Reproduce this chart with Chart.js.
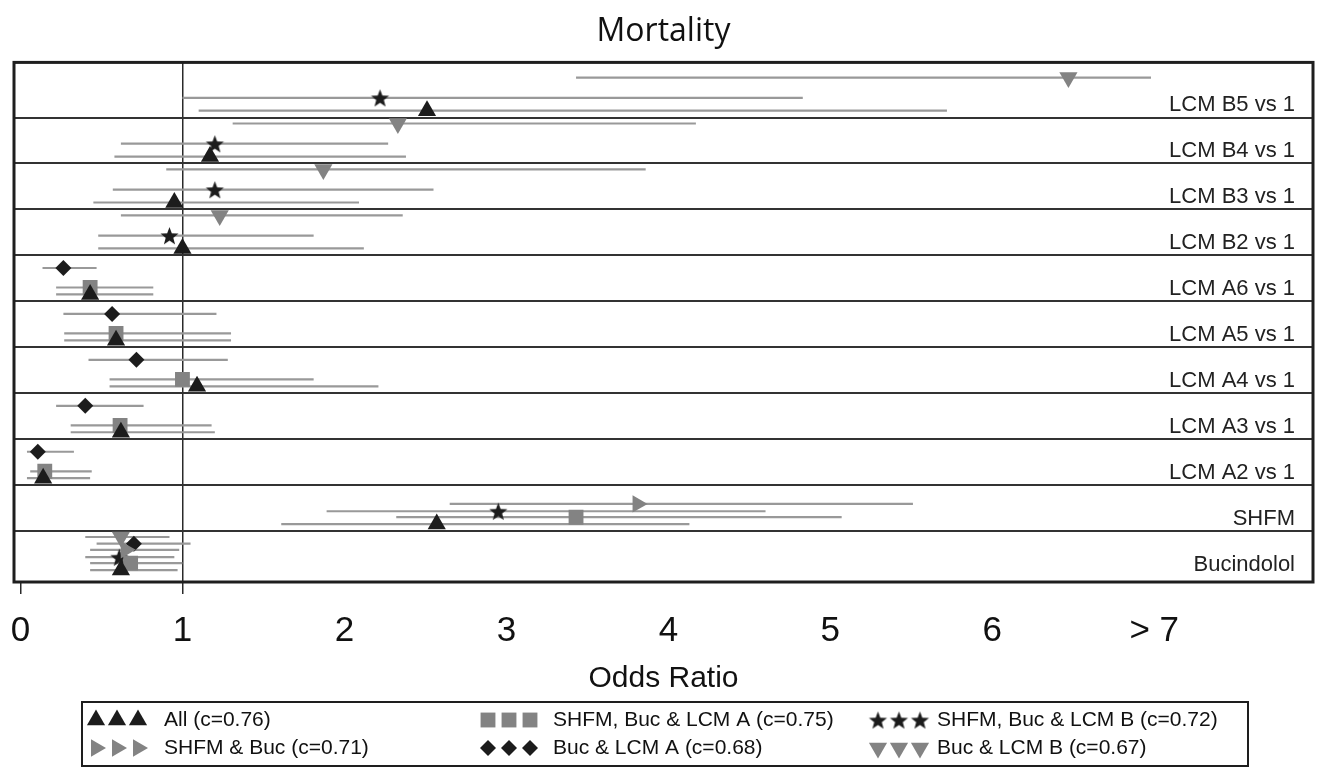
<!DOCTYPE html>
<html>
<head>
<meta charset="utf-8">
<script src="https://cdn.jsdelivr.net/npm/chart.js@4.4.0/dist/chart.umd.min.js"></script>
<style>
  body { margin: 0; background: #fff; }
  #wrap { width: 1321px; height: 771px; position: relative; }
</style>
</head>
<body>
<div id="wrap"><canvas id="orChart"></canvas></div>
<script>
// rows from top to bottom
const rows = ['LCM B5 vs 1', 'LCM B4 vs 1', 'LCM B3 vs 1', 'LCM B2 vs 1', 'LCM A6 vs 1', 'LCM A5 vs 1',
              'LCM A4 vs 1', 'LCM A3 vs 1', 'LCM A2 vs 1', 'SHFM', 'Bucindolol'];
const xTicks = [0, 1, 2, 3, 4, 5, 6, 7];
const xTickLabels = ['0', '1', '2', '3', '4', '5', '6', '> 7'];

// odds ratio and 95% CI per model, one value per row (null = not in model)
const allOR = [2.51, 1.17, 0.95, 1.00, 0.43, 0.59, 1.09, 0.62, 0.14, 2.57, 0.62];
const allLo = [1.10, 0.58, 0.45, 0.48, 0.22, 0.27, 0.55, 0.31, 0.04, 1.61, 0.43];
const allHi = [5.72, 2.38, 2.09, 2.12, 0.82, 1.30, 2.21, 1.20, 0.43, 4.13, 0.97];

const sqOR = [null, null, null, null, 0.43, 0.59, 1.00, 0.615, 0.15, 3.43, 0.68];
const sqLo = [null, null, null, null, 0.22, 0.27, 0.55, 0.31, 0.06, 2.32, 0.43];
const sqHi = [null, null, null, null, 0.82, 1.30, 1.81, 1.18, 0.44, 5.07, 1.00];

const starOR = [2.22, 1.20, 1.20, 0.92, null, null, null, null, null, 2.95, 0.61];
const starLo = [1.00, 0.62, 0.57, 0.48, null, null, null, null, null, 1.89, 0.40];
const starHi = [4.83, 2.27, 2.55, 1.81, null, null, null, null, null, 4.60, 0.95];

const rtOR = [null, null, null, null, null, null, null, null, null, 3.81, 0.65];
const rtLo = [null, null, null, null, null, null, null, null, null, 2.65, 0.43];
const rtHi = [null, null, null, null, null, null, null, null, null, 5.51, 0.98];

const dmOR = [null, null, null, null, 0.265, 0.566, 0.716, 0.40, 0.107, null, 0.70];
const dmLo = [null, null, null, null, 0.136, 0.265, 0.42, 0.22, 0.04, null, 0.47];
const dmHi = [null, null, null, null, 0.47, 1.21, 1.28, 0.76, 0.33, null, 1.05];

const dnOR = [6.47, 2.33, 1.87, 1.23, null, null, null, null, null, null, 0.62];
const dnLo = [3.43, 1.31, 0.90, 0.62, null, null, null, null, null, null, 0.40];
const dnHi = [6.98, 4.17, 3.86, 2.36, null, null, null, null, null, null, 0.92];

const BLACK = '#1c1c1c';
const GREY = '#838383';
const CI_GREY = '#999999';
const FONT = "'Liberation Sans', Arial, sans-serif";

// filled five point star for the "SHFM, Buc & LCM B" model
function makeStar(r, color) {
  const c = document.createElement('canvas');
  const s = Math.ceil(r * 2 + 2);
  c.width = s; c.height = s;
  const g = c.getContext('2d');
  g.fillStyle = color;
  g.beginPath();
  for (let k = 0; k < 10; k++) {
    const rad = k % 2 === 0 ? r : r * 0.42;
    const a = -Math.PI / 2 + k * Math.PI / 5;
    const px = s / 2 + rad * Math.cos(a), py = s / 2 + 1 + rad * Math.sin(a);
    k === 0 ? g.moveTo(px, py) : g.lineTo(px, py);
  }
  g.closePath();
  g.fill();
  return c;
}
const starImg = makeStar(9.5, BLACK);

const models = [
  { label: 'All (c=0.76)', or: allOR, lo: allLo, hi: allHi, off: 0.85, style: 'triangle', rot: 0, r: 10.5, color: BLACK },
  { label: 'SHFM & Buc (c=0.71)', or: rtOR, lo: rtLo, hi: rtHi, off: 0.41, style: 'triangle', rot: 90, r: 10, color: GREY },
  { label: 'SHFM, Buc & LCM A (c=0.75)', or: sqOR, lo: sqLo, hi: sqHi, off: 0.70, style: 'rect', rot: 0, r: 10.5, color: GREY },
  { label: 'Buc & LCM A (c=0.68)', or: dmOR, lo: dmLo, hi: dmHi, off: 0.275, style: 'rectRot', rot: 0, r: 8, color: BLACK },
  { label: 'SHFM, Buc & LCM B (c=0.72)', or: starOR, lo: starLo, hi: starHi, off: 0.57, style: starImg, rot: 0, r: 9, color: BLACK },
  { label: 'Buc & LCM B (c=0.67)', or: dnOR, lo: dnLo, hi: dnHi, off: 0.13, style: 'triangle', rot: 180, r: 10.5, color: GREY }
];

function rowY(i, off) { return rows.length - i - off; }

const datasets = [];
models.forEach(function (m) {
  const ci = [];
  const pts = [];
  rows.forEach(function (name, i) {
    if (m.or[i] == null) return;
    const y = rowY(i, m.off);
    ci.push({ x: m.lo[i], y: y }, { x: m.hi[i], y: y }, { x: m.hi[i], y: null });
    pts.push({ x: m.or[i], y: y });
  });
  datasets.push({
    label: m.label + ' CI', data: ci, showLine: true, spanGaps: false,
    borderColor: CI_GREY, borderWidth: 2.2, pointRadius: 0, order: 10
  });
  datasets.push({
    label: m.label, data: pts, showLine: false,
    pointStyle: m.style, rotation: m.rot, pointRadius: m.r,
    backgroundColor: m.color, borderColor: m.color, borderWidth: 0, order: 1
  });
});

const Y_MIN = -0.11, Y_MAX = 11.2;

const framePlugin = {
  id: 'frame',
  beforeDatasetsDraw(chart) {
    const a = chart.chartArea, ctx = chart.ctx;
    ctx.save();
    ctx.strokeStyle = '#1e1e1e';
    ctx.lineWidth = 3;
    ctx.strokeRect(a.left, a.top, a.right - a.left, a.bottom - a.top);
    ctx.restore();
  }
};

const legendPlugin = {
  id: 'tripleLegend',
  afterDraw(chart) {
    const ctx = chart.ctx;
    const box = { x: 82, y: 702, w: 1166, h: 64 };
    const colMark = [96, 488, 878];
    const colText = [164, 553, 937];
    const rowY = [720, 748];
    ctx.save();
    ctx.strokeStyle = '#1e1e1e';
    ctx.lineWidth = 2;
    ctx.strokeRect(box.x, box.y, box.w, box.h);
    // row 1 = All, SHFM Buc LCM A, SHFM Buc LCM B ; row 2 = SHFM & Buc, Buc & LCM A, Buc & LCM B
    const order = [[0, 2, 4], [1, 3, 5]];
    ctx.font = '21px ' + FONT;
    ctx.textBaseline = 'middle';
    ctx.textAlign = 'left';
    order.forEach(function (line, r) {
      line.forEach(function (mi, c) {
        const m = models[mi];
        for (let k = 0; k < 3; k++) {
          ctx.fillStyle = m.color;
          ctx.strokeStyle = m.color;
          Chart.helpers.drawPoint(ctx, { pointStyle: m.style, rotation: m.rot, radius: m.r, borderWidth: 0 },
            colMark[c] + k * 21, rowY[r]);
        }
        ctx.fillStyle = '#111';
        ctx.fillText(m.label, colText[c], rowY[r]);
      });
    });
    ctx.restore();
  }
};

const ctx = document.getElementById('orChart').getContext('2d');
const orChart = new Chart(ctx, {
  type: 'scatter',
  data: { datasets: datasets },
  plugins: [framePlugin, legendPlugin],
  options: {
    responsive: true,
    maintainAspectRatio: false,
    animation: false,
    events: [],
    layout: { autoPadding: false, padding: { left: 14, right: 8, top: 7, bottom: 75 } },
    plugins: {
      legend: { display: false },
      tooltip: { enabled: false },
      title: {
        display: true, text: 'Mortality', color: '#111',
        font: { family: "'Open Sans', sans-serif", size: 32, weight: 'normal' },
        padding: { top: 6, bottom: 11 }
      }
    },
    scales: {
      x: {
        type: 'linear', min: -0.04, max: 7.98,
        afterBuildTicks: function (axis) { axis.ticks = xTicks.map(v => ({ value: v })); },
        border: { display: false },
        grid: {
          color: c => (c.tick && c.tick.value === 1) ? '#2a2a2a' : 'rgba(0,0,0,0)',
          tickColor: c => (c.tick && c.tick.value <= 1) ? '#2a2a2a' : 'rgba(0,0,0,0)',
          lineWidth: 1.5, tickLength: 12
        },
        ticks: {
          color: '#111', padding: 9,
          font: { family: FONT, size: 35, lineHeight: 1.6 },
          callback: function (v) { const k = xTicks.indexOf(v); return k < 0 ? '' : xTickLabels[k]; }
        },
        title: {
          display: true, text: 'Odds Ratio', color: '#111',
          font: { family: FONT, size: 30, lineHeight: 1.0 },
          padding: { top: -4, bottom: 2 }
        }
      },
      y: {
        type: 'linear', position: 'left', min: Y_MIN, max: Y_MAX,
        afterBuildTicks: function (axis) {
          const t = [];
          for (let k = 1; k < rows.length; k++) t.push({ value: k });
          axis.ticks = t;
        },
        border: { display: false },
        grid: { color: '#333', lineWidth: 2, drawTicks: false },
        ticks: { display: false }
      },
      rowLabels: {
        type: 'linear', position: 'right', min: Y_MIN, max: Y_MAX,
        afterBuildTicks: function (axis) {
          axis.ticks = rows.map((name, i) => ({ value: rows.length - 1 - i + 0.27 }));
        },
        afterFit: function (axis) { axis.width = 0; },
        border: { display: false },
        grid: { display: false, drawTicks: false },
        ticks: {
          mirror: true, padding: -18, color: '#222',
          font: { family: FONT, size: 22 },
          callback: function (v) {
            const i = Math.round(rows.length - 1 - (v - 0.27));
            return rows[i] || '';
          }
        }
      }
    }
  }
});
</script>
</body>
</html>
